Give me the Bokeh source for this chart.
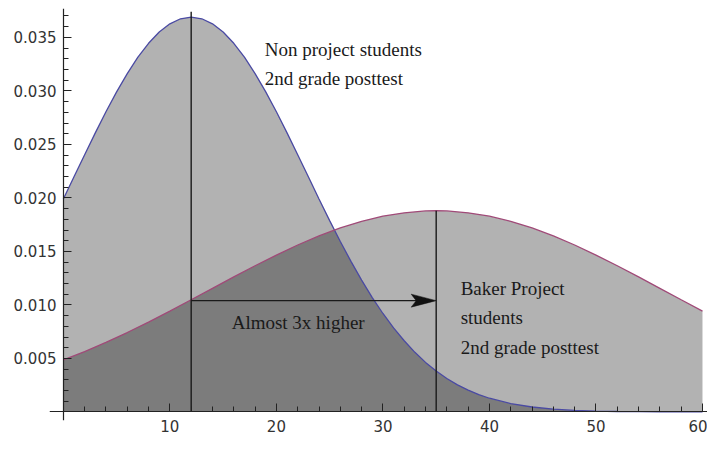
from bokeh.plotting import figure
from bokeh.models import FixedTicker, Label, Range1d, LinearAxis
from bokeh.embed import file_html
from bokeh.resources import INLINE

# ---- data ----
# Non project students, 2nd grade posttest (density curve)
x_non = [0, 1, 2, 3, 4, 5, 6, 7, 8, 9, 10, 11, 12, 13, 14, 15, 16, 17, 18, 19, 20,
         21, 22, 23, 24, 25, 26, 27, 28, 29, 30, 31, 32, 33, 34, 35, 36, 37, 38, 39, 40,
         42, 44, 46, 48, 50, 52, 54, 56, 58, 60]
y_non = [0.01990, 0.02197, 0.02404, 0.02608, 0.02805, 0.02991, 0.03162, 0.03315, 0.03445,
         0.03551, 0.03627, 0.03674, 0.03690, 0.03674, 0.03627, 0.03551, 0.03445, 0.03315,
         0.03162, 0.02991, 0.02805, 0.02608, 0.02404, 0.02197, 0.01990, 0.01788, 0.01593,
         0.01407, 0.01232, 0.01069, 0.00920, 0.00785, 0.00665, 0.00557, 0.00463, 0.00382,
         0.00312, 0.00253, 0.00204, 0.00162, 0.00128, 0.00078, 0.00046, 0.00026, 0.00014,
         0.00008, 0.00004, 0.00002, 0.00001, 0.0, 0.0]

# Baker Project students, 2nd grade posttest (density curve)
x_baker = [0, 2, 4, 6, 8, 10, 12, 14, 16, 18, 20, 22, 24, 26, 28, 30, 32, 34, 35,
           36, 38, 40, 42, 44, 46, 48, 50, 52, 54, 56, 58, 60]
y_baker = [0.00486, 0.00564, 0.00650, 0.00742, 0.00840, 0.00942, 0.01048, 0.01155,
           0.01262, 0.01366, 0.01466, 0.01560, 0.01645, 0.01719, 0.01781, 0.01829,
           0.01861, 0.01878, 0.01880, 0.01878, 0.01861, 0.01829, 0.01781, 0.01719,
           0.01645, 0.01560, 0.01466, 0.01366, 0.01262, 0.01155, 0.01048, 0.00942]

# means (vertical marker lines) and their tops
means = [12, 35]
mean_tops = [0.0374, 0.0188]
arrow_y = 0.0104

# ticks
x_major = [10, 20, 30, 40, 50, 60]
x_minor = [2, 4, 6, 8, 12, 14, 16, 18, 22, 24, 26, 28, 32, 34, 36, 38,
           42, 44, 46, 48, 52, 54, 56, 58]
y_major = [0.005, 0.010, 0.015, 0.020, 0.025, 0.030, 0.035]
y_major_labels = ["0.005", "0.010", "0.015", "0.020", "0.025", "0.030", "0.035"]
y_minor = [0.001, 0.002, 0.003, 0.004, 0.006, 0.007, 0.008, 0.009, 0.011, 0.012,
           0.013, 0.014, 0.016, 0.017, 0.018, 0.019, 0.021, 0.022, 0.023, 0.024,
           0.026, 0.027, 0.028, 0.029, 0.031, 0.032, 0.033, 0.034, 0.036, 0.037]

# annotations
ann_text = ["Non project students", "2nd grade posttest", "Almost 3x higher",
            "Baker Project", "students", "2nd grade posttest"]
ann_x = [18.9, 18.9, 15.8, 37.3, 37.3, 37.3]
ann_y = [0.0339, 0.0312, 0.0084, 0.01157, 0.00878, 0.00605]

# ---- layout ----
W, H = 707, 436
MB_LEFT, MB_TOP, MB_BOTTOM = 49, 8, 16
x0, x1 = -1.3, 60.47
y0, y1 = -0.0008, 0.0377
frame_w = W - MB_LEFT
frame_h = H - MB_TOP - MB_BOTTOM
ppu_x = frame_w / (x1 - x0)
ppu_y = frame_h / (y1 - y0)

p = figure(width=W, height=H, output_backend="svg", toolbar_location=None,
           x_range=Range1d(x0, x1), y_range=Range1d(y0, y1),
           min_border_left=MB_LEFT, min_border_right=0, min_border_top=MB_TOP,
           min_border_bottom=MB_BOTTOM)
p.outline_line_color = None
p.grid.visible = False
p.background_fill_color = "white"
p.border_fill_color = "white"

# fills
p.varea(x=x_non, y1=[0] * len(x_non), y2=y_non, fill_color="black", fill_alpha=0.3)
p.varea(x=x_baker, y1=[0] * len(x_baker), y2=y_baker, fill_color="black", fill_alpha=0.3)

# curves
p.line(x_non, y_non, line_color="#4a4aa3", line_width=1.3)
p.line(x_baker, y_baker, line_color="#a04a78", line_width=1.3)

# mean lines
p.segment(x0=means, y0=[0, 0], x1=means, y1=mean_tops, line_color="#1a1a1a", line_width=1.4)

# arrow
head_len = 25 / ppu_x
head_half = 6.5 / ppu_y
p.segment(x0=[means[0]], y0=[arrow_y], x1=[means[1] - head_len * 0.8], y1=[arrow_y],
          line_color="#1a1a1a", line_width=1.4)
p.patch(x=[means[1], means[1] - head_len, means[1] - head_len * 0.8, means[1] - head_len],
        y=[arrow_y, arrow_y + head_half, arrow_y, arrow_y - head_half],
        fill_color="#111111", line_color="#111111", line_width=0.5)

# annotations
for t, ax, ay in zip(ann_text, ann_x, ann_y):
    p.add_layout(Label(x=ax, y=ay, text=t, text_font="Liberation Serif",
                       text_font_size="19px", text_baseline="middle",
                       text_align="left", text_color="#1a1a1a"))

# axes lines and ticks (crossing at origin)
xa = p.xaxis[0]
ya = p.yaxis[0]
xa.fixed_location = 0
ya.fixed_location = 0
xa.ticker = FixedTicker(ticks=x_major, minor_ticks=x_minor)
ya.ticker = FixedTicker(ticks=y_major, minor_ticks=y_minor)
xa.major_label_overrides = {v: "" for v in x_major}
ya.major_label_overrides = {v: "" for v in y_major}
for ax in (xa, ya):
    ax.axis_line_color = "#222222"
    ax.axis_line_width = 1.2
    ax.major_tick_line_color = "#222222"
    ax.minor_tick_line_color = "#222222"
    ax.major_tick_in = 8
    ax.major_tick_out = 0
    ax.minor_tick_in = 5
    ax.minor_tick_out = 0

# tick labels on separate axes (not clipped)
xl = LinearAxis(ticker=FixedTicker(ticks=x_major, minor_ticks=[]),
                axis_line_color=None, major_tick_line_color=None,
                minor_tick_line_color=None, major_tick_in=0, major_tick_out=0,
                minor_tick_in=0, minor_tick_out=0, major_label_standoff=-1)
yl = LinearAxis(ticker=FixedTicker(ticks=y_major, minor_ticks=[]),
                axis_line_color=None, major_tick_line_color=None,
                minor_tick_line_color=None, major_tick_in=0, major_tick_out=0,
                minor_tick_in=0, minor_tick_out=0, major_label_standoff=-7,
                major_label_overrides={v: s for v, s in zip(y_major, y_major_labels)})
for ax in (xl, yl):
    ax.major_label_text_font = "DejaVu Sans"
    ax.major_label_text_font_size = "15px"
    ax.major_label_text_color = "#333333"
p.add_layout(xl, "below")
p.add_layout(yl, "left")

open("out.html", "w").write(file_html(p, INLINE))
